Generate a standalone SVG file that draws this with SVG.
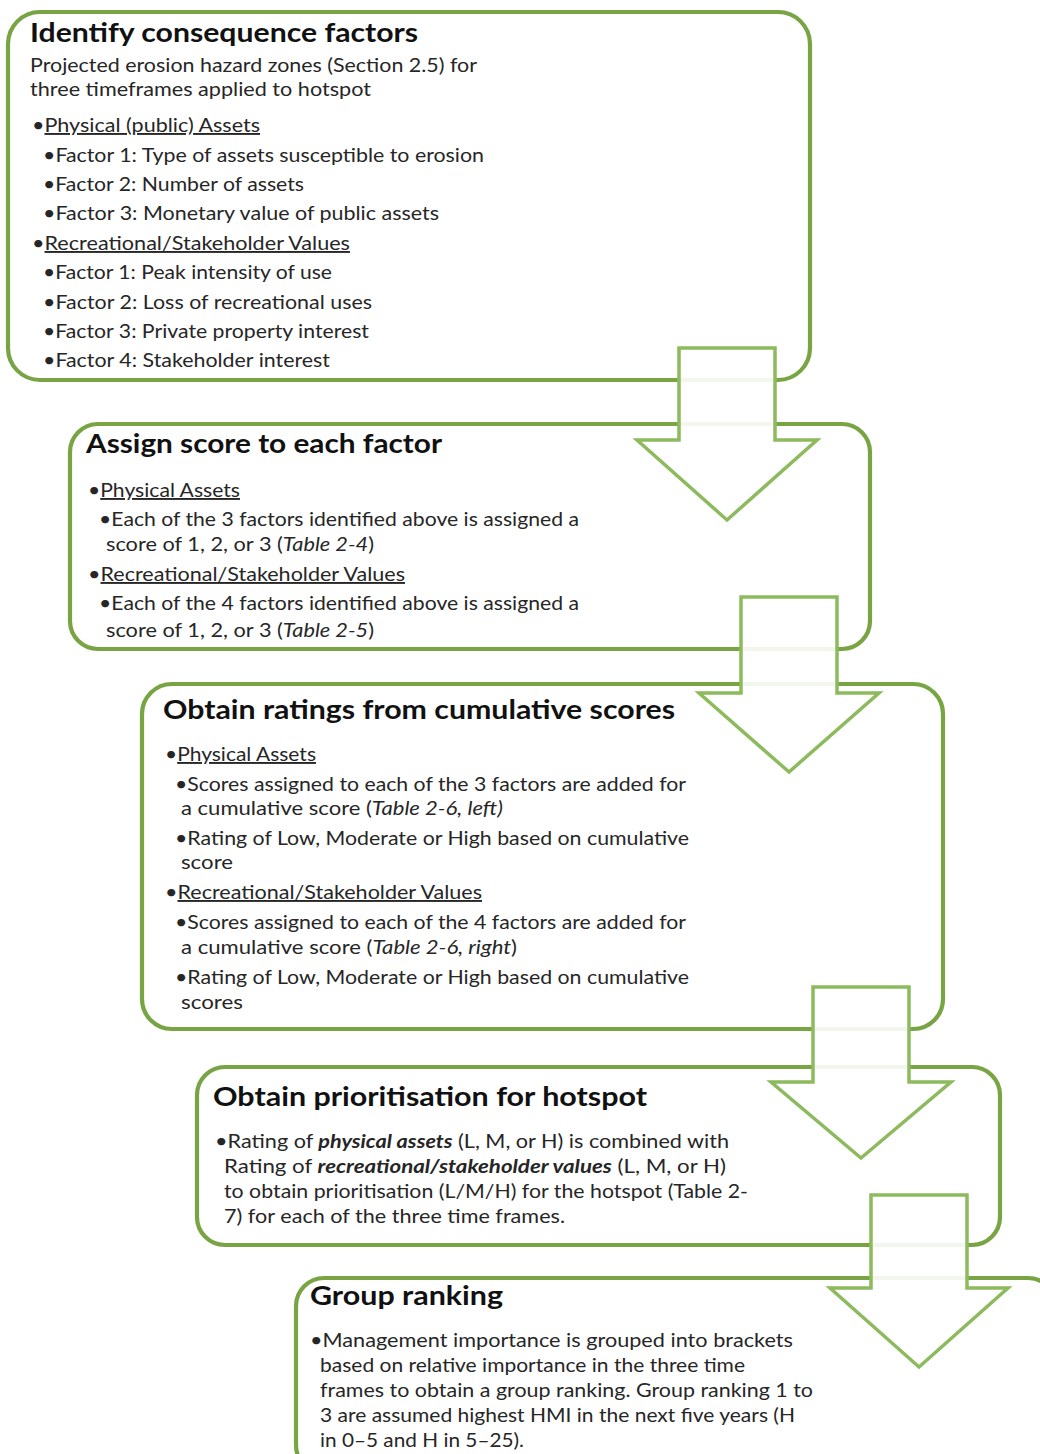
<svg xmlns="http://www.w3.org/2000/svg" width="1040" height="1454" viewBox="0 0 1040 1454">
<style>
.box{fill:#ffffff;stroke:#78a443;stroke-width:4.2}
.arr{fill:#ffffff;fill-opacity:0.9;stroke:#8cba5c;stroke-width:3.5;stroke-linejoin:miter}
.t{font-family:Lato,"Liberation Sans",sans-serif;font-weight:bold;font-size:27px;fill:#111111}
.b{font-family:Lato,"Liberation Sans",sans-serif;font-size:19px;fill:#262626}
.u{text-decoration:underline}
.i{font-style:italic}
.bi{font-style:italic;font-weight:bold}
</style>
<defs>
<clipPath id="c1"><rect x="0" y="0" width="1040" height="369"/></clipPath>
</defs>
<rect width="1040" height="1454" fill="#ffffff"/>
<g id="node1">
<rect class="box" x="8" y="12" width="802" height="368" rx="32"/>
<text class="t" x="30" y="42" textLength="388" lengthAdjust="spacingAndGlyphs">Identify consequence factors</text>
<text class="b" x="30" y="72" textLength="447" lengthAdjust="spacingAndGlyphs">Projected erosion hazard zones (Section 2.5) for</text>
<text class="b" x="30" y="96" textLength="341" lengthAdjust="spacingAndGlyphs">three timeframes applied to hotspot</text>
<text class="b" x="32" y="132" textLength="228" lengthAdjust="spacingAndGlyphs">•<tspan class="u">Physical (public) Assets</tspan></text>
<text class="b" x="43" y="162" textLength="441" lengthAdjust="spacingAndGlyphs">•Factor 1: Type of assets susceptible to erosion</text>
<text class="b" x="43" y="191" textLength="261" lengthAdjust="spacingAndGlyphs">•Factor 2: Number of assets</text>
<text class="b" x="43" y="220" textLength="396" lengthAdjust="spacingAndGlyphs">•Factor 3: Monetary value of public assets</text>
<text class="b" x="32" y="250" textLength="318" lengthAdjust="spacingAndGlyphs">•<tspan class="u">Recreational/Stakeholder Values</tspan></text>
<text class="b" x="43" y="279" textLength="289" lengthAdjust="spacingAndGlyphs">•Factor 1: Peak intensity of use</text>
<text class="b" x="43" y="309" textLength="329" lengthAdjust="spacingAndGlyphs">•Factor 2: Loss of recreational uses</text>
<text class="b" x="43" y="338" textLength="326" lengthAdjust="spacingAndGlyphs">•Factor 3: Private property interest</text>
<text class="b" x="43" y="367" textLength="287" lengthAdjust="spacingAndGlyphs" clip-path="url(#c1)">•Factor 4: Stakeholder interest</text>
</g>
<g id="node2">
<rect class="box" x="70" y="424" width="800" height="225" rx="28"/>
<text class="t" x="86" y="453" textLength="356" lengthAdjust="spacingAndGlyphs">Assign score to each factor</text>
<text class="b" x="88" y="497" textLength="152" lengthAdjust="spacingAndGlyphs">•<tspan class="u">Physical Assets</tspan></text>
<text class="b" x="99" y="526" textLength="480" lengthAdjust="spacingAndGlyphs">•Each of the 3 factors identified above is assigned a</text>
<text class="b" x="106" y="551" textLength="268" lengthAdjust="spacingAndGlyphs">score of 1, 2, or 3 (<tspan class="i">Table 2-4</tspan>)</text>
<text class="b" x="88" y="581" textLength="317" lengthAdjust="spacingAndGlyphs">•<tspan class="u">Recreational/Stakeholder Values</tspan></text>
<text class="b" x="99" y="610" textLength="480" lengthAdjust="spacingAndGlyphs">•Each of the 4 factors identified above is assigned a</text>
<text class="b" x="106" y="637" textLength="268" lengthAdjust="spacingAndGlyphs">score of 1, 2, or 3 (<tspan class="i">Table 2-5</tspan>)</text>
</g>
<g id="node3">
<rect class="box" x="142" y="684" width="801" height="345" rx="30"/>
<text class="t" x="163" y="719" textLength="512" lengthAdjust="spacingAndGlyphs">Obtain ratings from cumulative scores</text>
<text class="b" x="165" y="761" textLength="151" lengthAdjust="spacingAndGlyphs">•<tspan class="u">Physical Assets</tspan></text>
<text class="b" x="175" y="791" textLength="511" lengthAdjust="spacingAndGlyphs">•Scores assigned to each of the 3 factors are added for</text>
<text class="b" x="181" y="815" textLength="322" lengthAdjust="spacingAndGlyphs">a cumulative score (<tspan class="i">Table 2-6, left)</tspan></text>
<text class="b" x="175" y="845" textLength="514" lengthAdjust="spacingAndGlyphs">•Rating of Low, Moderate or High based on cumulative</text>
<text class="b" x="181" y="869" textLength="52" lengthAdjust="spacingAndGlyphs">score</text>
<text class="b" x="165" y="899" textLength="317" lengthAdjust="spacingAndGlyphs">•<tspan class="u">Recreational/Stakeholder Values</tspan></text>
<text class="b" x="175" y="929" textLength="511" lengthAdjust="spacingAndGlyphs">•Scores assigned to each of the 4 factors are added for</text>
<text class="b" x="181" y="954" textLength="336" lengthAdjust="spacingAndGlyphs">a cumulative score (<tspan class="i">Table 2-6, right</tspan>)</text>
<text class="b" x="175" y="984" textLength="514" lengthAdjust="spacingAndGlyphs">•Rating of Low, Moderate or High based on cumulative</text>
<text class="b" x="181" y="1009" textLength="62" lengthAdjust="spacingAndGlyphs">scores</text>
</g>
<g id="node4">
<rect class="box" x="197" y="1067" width="803" height="178" rx="28"/>
<text class="t" x="213" y="1106" textLength="434" lengthAdjust="spacingAndGlyphs">Obtain prioritisation for hotspot</text>
<text class="b" x="215" y="1148" textLength="514" lengthAdjust="spacingAndGlyphs">•Rating of <tspan class="bi">physical assets</tspan> (L, M, or H) is combined with</text>
<text class="b" x="224" y="1173" textLength="502" lengthAdjust="spacingAndGlyphs">Rating of <tspan class="bi">recreational/stakeholder  values</tspan> (L, M, or H)</text>
<text class="b" x="224" y="1198" textLength="524" lengthAdjust="spacingAndGlyphs">to obtain prioritisation (L/M/H) for the hotspot (Table 2-</text>
<text class="b" x="224" y="1223" textLength="341" lengthAdjust="spacingAndGlyphs">7) for each of the three time frames.</text>
</g>
<g id="node5">
<rect class="box" x="296" y="1278" width="760" height="195" rx="28"/>
<text class="t" x="310" y="1305" textLength="193" lengthAdjust="spacingAndGlyphs">Group ranking</text>
<text class="b" x="310" y="1347" textLength="483" lengthAdjust="spacingAndGlyphs">•Management importance is grouped into brackets</text>
<text class="b" x="320" y="1372" textLength="425" lengthAdjust="spacingAndGlyphs">based on relative importance in the three time</text>
<text class="b" x="320" y="1397" textLength="493" lengthAdjust="spacingAndGlyphs">frames to obtain a group ranking. Group ranking 1 to</text>
<text class="b" x="320" y="1422" textLength="475" lengthAdjust="spacingAndGlyphs">3 are assumed highest HMI in the next five years (H</text>
<text class="b" x="320" y="1447" textLength="204" lengthAdjust="spacingAndGlyphs">in 0–5 and H in 5–25).</text>
</g>
<g id="connectors">
<polygon class="arr" points="679,348 775,348 775,440 817,440 727,520 637,440 679,440"/>
<polygon class="arr" points="741,597 837,597 837,693 879,693 789,772 699,693 741,693"/>
<polygon class="arr" points="813,987 909,987 909,1082 951,1082 861,1158 771,1082 813,1082"/>
<polygon class="arr" points="871,1195 967,1195 967,1288 1008,1288 919,1367 830,1288 871,1288"/>
</g>
</svg>
